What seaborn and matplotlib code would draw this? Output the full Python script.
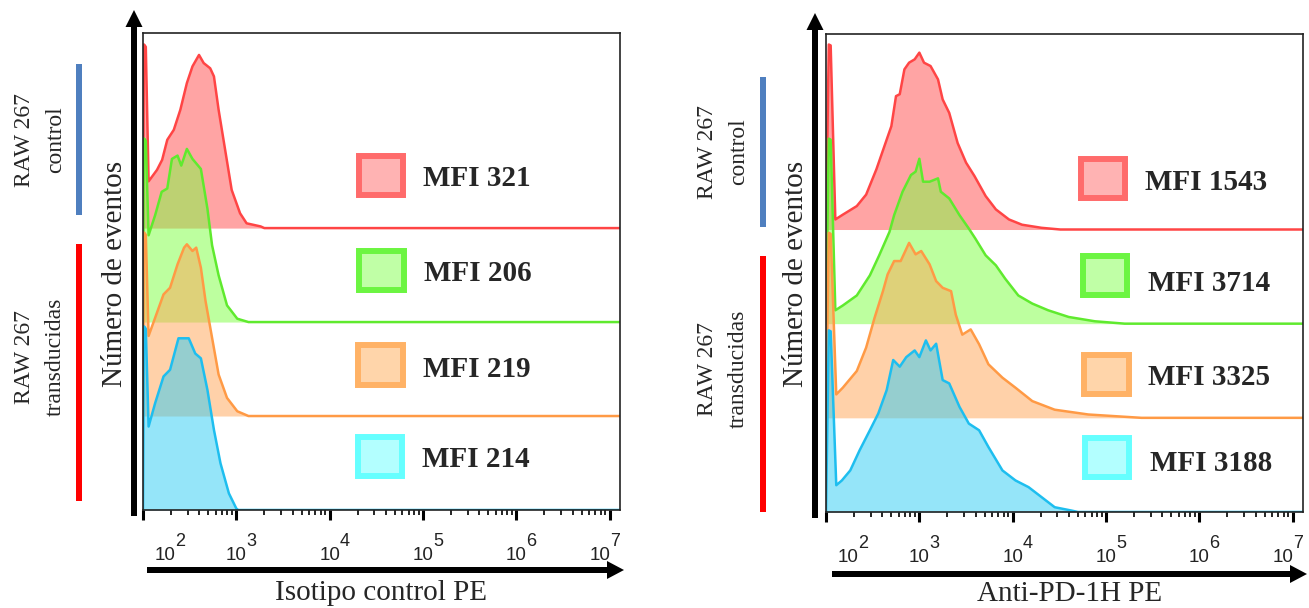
import numpy as np
import pandas as pd
import matplotlib.pyplot as plt
import seaborn as sns
from matplotlib.patches import Rectangle, FancyArrow
import matplotlib.transforms as mtransforms

# ---- datos (log10 de intensidad, cuentas normalizadas) ----
iso_ctrl_x = [2.00, 2.01, 2.03, 2.06, 2.15, 2.205, 2.26, 2.33, 2.40, 2.47, 2.53, 2.60, 2.65,
              2.72, 2.76, 2.81, 2.88, 2.95, 3.04, 3.11, 3.26, 3.30, 7.3]
iso_ctrl_y = [0, 38.5, 38, 9.8, 12.2, 14.3, 18.5, 20.6, 24.8, 30.4, 33.9, 36.3, 34.6,
              33.5, 31.8, 24.8, 16.4, 8.0, 3.1, 1.0, 0.35, 0, 0]
iso_td1_x = [2.00, 2.01, 2.03, 2.06, 2.13, 2.20, 2.26, 2.31, 2.37, 2.41, 2.47, 2.53, 2.62,
             2.69, 2.74, 2.81, 2.90, 3.01, 3.13, 7.3]
iso_td1_y = [0, 38.5, 38, 18.2, 22.4, 27.3, 28.0, 34.2, 34.9, 32.8, 36.3, 34.2, 32.1,
             23.8, 16.1, 9.8, 3.5, 0.7, 0, 0]
iso_td2_x = [2.00, 2.01, 2.03, 2.06, 2.13, 2.22, 2.29, 2.37, 2.44, 2.47, 2.53, 2.57, 2.62,
             2.67, 2.74, 2.81, 2.90, 3.01, 3.13, 7.3]
iso_td2_y = [0, 38.5, 38, 16.8, 20.6, 25.5, 26.9, 31.8, 35.3, 36.0, 34.6, 35.3, 31.1,
             24.1, 16.4, 8.7, 3.8, 1.0, 0, 0]
iso_td3_x = [2.00, 2.01, 2.03, 2.06, 2.13, 2.22, 2.29, 2.38, 2.49, 2.56, 2.62, 2.69, 2.76,
             2.83, 2.92, 3.00, 3.02, 7.3]
iso_td3_y = [0, 38.5, 38, 17.5, 22.4, 28.0, 29.4, 36.0, 36.0, 32.8, 31.8, 25.2, 16.8,
             9.8, 3.5, 0.3, 0, 0]

pd1_ctrl_x = [2.00, 2.03, 2.05, 2.10, 2.18, 2.33, 2.43, 2.54, 2.65, 2.70, 2.75, 2.79, 2.84,
              2.89, 2.95, 3.00, 3.05, 3.12, 3.20, 3.25, 3.32, 3.41, 3.50, 3.59, 3.71, 3.82,
              3.96, 4.10, 4.31, 4.51, 7.3]
pd1_ctrl_y = [0, 38.7, 38.5, 2.1, 3.1, 4.9, 7.3, 12.6, 18.8, 21.6, 27.9, 28.3, 33.5,
              34.9, 35.6, 37.0, 34.9, 34.2, 31.4, 27.2, 24.4, 18.1, 14.0, 11.2, 7.0, 4.2,
              2.1, 1.0, 0.35, 0, 0]
pd1_td1_x = [2.00, 2.03, 2.05, 2.10, 2.18, 2.33, 2.47, 2.57, 2.68, 2.73, 2.82, 2.91, 2.96,
             3.00, 3.04, 3.11, 3.20, 3.23, 3.32, 3.43, 3.53, 3.60, 3.71, 3.82, 3.92, 4.06,
             4.21, 4.38, 4.60, 4.88, 5.20, 7.3]
pd1_td1_y = [0, 38.7, 38.5, 2.8, 3.8, 5.9, 10.1, 14.3, 19.2, 22.7, 27.6, 31.1, 31.8,
             34.5, 29.7, 29.7, 30.4, 27.6, 26.2, 22.7, 19.9, 17.8, 14.3, 12.2, 9.4, 5.9,
             4.2, 2.8, 1.4, 0.5, 0, 0]
pd1_td2_x = [2.00, 2.03, 2.05, 2.11, 2.18, 2.33, 2.43, 2.52, 2.61, 2.66, 2.73, 2.80, 2.89,
             2.96, 3.02, 3.11, 3.18, 3.25, 3.34, 3.39, 3.46, 3.55, 3.64, 3.74, 3.89, 4.03,
             4.21, 4.45, 4.81, 5.38, 7.3]
pd1_td2_y = [0, 38.7, 38.5, 4.9, 6.3, 9.8, 14.7, 20.9, 26.5, 30.0, 32.8, 32.8, 36.6,
             34.2, 34.9, 32.1, 28.6, 27.2, 26.5, 21.6, 17.4, 18.5, 15.4, 11.2, 8.4, 6.3,
             3.5, 1.7, 0.7, 0, 0]
pd1_td3_x = [2.00, 2.03, 2.05, 2.11, 2.17, 2.26, 2.36, 2.47, 2.56, 2.65, 2.72, 2.79, 2.86,
             2.95, 3.00, 3.07, 3.12, 3.18, 3.25, 3.32, 3.43, 3.53, 3.64, 3.74, 3.89, 4.03,
             4.17, 4.31, 4.45, 4.63, 4.70, 7.3]
pd1_td3_y = [0, 38.0, 37.8, 5.6, 6.6, 8.7, 12.9, 17.1, 20.6, 25.5, 31.8, 30.4, 32.4,
             33.8, 32.4, 35.9, 33.8, 35.2, 27.6, 26.9, 22.0, 18.5, 17.1, 13.6, 8.7, 6.6,
             5.2, 3.1, 1.0, 0.3, 0, 0]

iso_mfi = ['MFI 321', 'MFI 206', 'MFI 219', 'MFI 214']
pd1_mfi = ['MFI 1543', 'MFI 3714', 'MFI 3325', 'MFI 3188']
decades = [2, 3, 4, 5, 6, 7]

# colores
line_cols = ['#FF4545', '#5FEA2E', '#FF9A45', '#1EBEEF']
fill_cols = ['#FF4B4B', '#7DFF41', '#FFA555', '#2DCDF5']
box_edge = ['#FF6B6B', '#6CF542', '#FFB266', '#66FFFF']
box_fill = ['#FFB3B3', '#C0FFA6', '#FFD5AA', '#B3FFFF']

W, H = 1309, 608
sns.set_theme(style='ticks')
plt.rcParams['font.family'] = ['Liberation Serif', 'DejaVu Serif']

fig = plt.figure(figsize=(W / 100, H / 100), dpi=100)
pix = mtransforms.IdentityTransform()


def fx(x):
    return x / W


def fy(y):
    return 1 - y / H


def draw_panel(rect, curves, mfi, boxes, text_pos, xlabel, xlab_pos, left_px, yarrow, xarrow,
               bars, group_x):
    ax = fig.add_axes(rect)
    offsets = [59.1, 39.4, 19.7, 0]
    for i, (xs, ys) in enumerate(curves):
        x = 10 ** np.array(xs)
        y = offsets[i] + np.array(ys)
        ax.fill_between(x, offsets[i], y, color=fill_cols[i], alpha=0.5, lw=0)
        sns.lineplot(x=x, y=y, ax=ax, color=line_cols[i], lw=1.8, estimator=None, sort=False)
    ax.set_xscale('log')
    ax.set_xlim(10 ** 2, 10 ** 7.11)
    ax.set_ylim(0, 100)
    ax.set_yticks([])
    ax.set_xticks([10.0 ** d for d in decades])
    ax.set_xticklabels([])
    ax.xaxis.set_minor_locator(plt.LogLocator(base=10, subs=np.arange(2, 10)))
    ax.xaxis.set_minor_formatter(plt.NullFormatter())
    ax.tick_params(axis='x', which='major', direction='out', length=7, width=2.2, color='black')
    ax.tick_params(axis='x', which='minor', direction='out', length=3.5, width=1.2, color='black')
    for s in ax.spines.values():
        s.set_linewidth(1.2)
        s.set_color('#222222')
    ax.set_xlabel('')
    ax.set_ylabel('')

    # etiquetas 10^n
    shifts = {2: 22, 7: -10}
    for d in decades:
        dx = shifts.get(d, 0)
        ax.annotate('10', xy=(10.0 ** d, 0), xycoords=('data', 'axes fraction'),
                    xytext=(dx, -46), textcoords='offset pixels', ha='center', va='center',
                    fontsize=13.5, family='Liberation Sans', color='#222222', annotation_clip=False)
        ax.annotate(str(d), xy=(10.0 ** d, 0), xycoords=('data', 'axes fraction'),
                    xytext=(dx + 10, -32), textcoords='offset pixels', ha='left', va='center',
                    fontsize=13, family='Liberation Sans', color='#222222', annotation_clip=False)

    # cajas tipo leyenda
    for i, (x0, y0, x1, y1) in enumerate(boxes):
        fig.add_artist(Rectangle((x0 + 3, H - y1 + 3), x1 - x0 - 6, y1 - y0 - 6, transform=pix,
                                 facecolor=box_fill[i], edgecolor=box_edge[i], lw=4.3))
        tx, ty = text_pos[i]
        fig.text(fx(tx), fy(ty), mfi[i], ha='left', va='baseline', fontsize=21, weight='bold')

    # flechas de ejes
    ax_x, y_bot, y_tip = yarrow
    fig.add_artist(FancyArrow(ax_x, H - y_bot, 0, y_bot - y_tip, width=6, head_width=17,
                              head_length=17, length_includes_head=True, transform=pix,
                              color='black', lw=0))
    x_start, x_tip, y_ar = xarrow
    fig.add_artist(FancyArrow(x_start, H - y_ar, x_tip - x_start, 0, width=6, head_width=18,
                              head_length=17, length_includes_head=True, transform=pix,
                              color='black', lw=0))

    fig.text(fx(xlab_pos[0]), fy(xlab_pos[1]), xlabel, ha='center', va='baseline', fontsize=21)
    fig.text(fx(left_px), fy(274), 'Número de eventos', rotation=90, rotation_mode='anchor',
             ha='center', va='baseline', fontsize=21)

    # barras de grupo
    (bx, b0, b1), (rx, r0, r1) = bars
    fig.add_artist(Rectangle((bx - 3, H - b1), 6, b1 - b0, transform=pix, color='#4F7FBF', lw=0))
    fig.add_artist(Rectangle((rx - 3, H - r1), 6, r1 - r0, transform=pix, color='#FF0000', lw=0))
    gx, gy1, gy2 = group_x
    fig.text(fx(gx), fy(gy1), 'RAW 267\ncontrol', rotation=90, rotation_mode='anchor',
             ha='center', va='center', fontsize=17, linespacing=1.6, multialignment='center')
    fig.text(fx(gx), fy(gy2), 'RAW 267\ntransducidas', rotation=90, rotation_mode='anchor',
             ha='center', va='center', fontsize=17, linespacing=1.6, multialignment='center')
    return ax


draw_panel([fx(143), fy(510), 477 / W, 477 / H],
           [(iso_ctrl_x, iso_ctrl_y), (iso_td1_x, iso_td1_y),
            (iso_td2_x, iso_td2_y), (iso_td3_x, iso_td3_y)],
           iso_mfi,
           [(356, 153, 406, 198), (356, 248, 407, 293), (355, 342, 406, 388), (355, 434, 405, 479)],
           [(423, 186), (424, 281), (423, 377), (422, 467)],
           'Isotipo control PE', (381, 600), 122,
           (134, 516, 10), (147, 624, 570),
           ((79, 64, 215), (79, 244, 501)), (40, 140, 357))

draw_panel([fx(826), fy(512), 477 / W, 478 / H],
           [(pd1_ctrl_x, pd1_ctrl_y), (pd1_td1_x, pd1_td1_y),
            (pd1_td2_x, pd1_td2_y), (pd1_td3_x, pd1_td3_y)],
           pd1_mfi,
           [(1078, 156, 1128, 201), (1080, 253, 1130, 298), (1081, 352, 1132, 397), (1082, 435, 1132, 480)],
           [(1145, 190), (1148, 291), (1148, 385), (1150, 471)],
           'Anti-PD-1H PE', (1070, 601), 803,
           (815, 518, 13), (832, 1307, 574),
           ((763, 77, 227), (763, 256, 512)), (723, 152, 369))

plt.savefig('out.png', dpi=100)
